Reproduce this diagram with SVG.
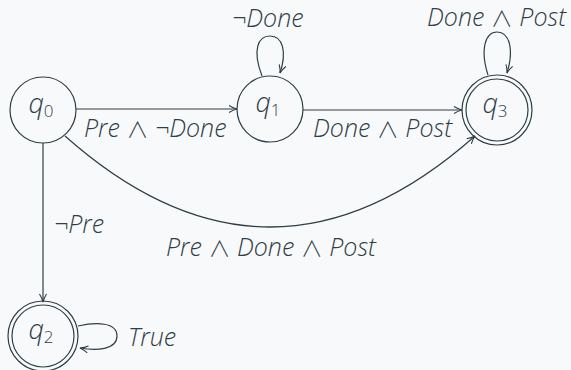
<svg xmlns="http://www.w3.org/2000/svg" width="571" height="370" viewBox="0 0 571 370">
  <style>
    .bg { fill: #f8f9fa; }
    .state { fill: none; stroke: #2f3e46; stroke-width: 1.2; }
    .edge { fill: none; stroke: #2f3e46; stroke-width: 1.2; }
    .lbl { font-family: "Open Sans", "Noto Sans", sans-serif; font-style: italic; font-weight: 300; font-size: 25px; fill: #2f3e46; }
    .op { font-family: "Noto Sans CJK JP", "DejaVu Sans", sans-serif; font-style: normal; font-weight: 300; font-size: 22px; }
    .name { font-family: "Open Sans", "Noto Sans", sans-serif; font-style: italic; font-weight: 300; font-size: 27px; fill: #2f3e46; text-anchor: middle; }
    .sub { font-style: normal; font-size: 17px; }
  </style>
  <defs>
    <marker id="arrow" viewBox="0 0 10 10" refX="9" refY="5" markerWidth="10" markerHeight="10" markerUnits="userSpaceOnUse" orient="auto">
      <path d="M1,1.5 Q5,4 9,5 Q5,6 1,8.5" fill="none" stroke="#2f3e46" stroke-width="1.1"/>
    </marker>
  </defs>
  <rect class="bg" width="571" height="370"/>

  <g id="edges">
    <!-- q0 -> q1 -->
    <path class="edge" d="M76,109 L237,109" marker-end="url(#arrow)"/>
    <text class="lbl" x="84" y="137">Pre <tspan class="op">∧</tspan> ¬Done</text>
    <!-- q1 -> q3 -->
    <path class="edge" d="M303,110 L462,110" marker-end="url(#arrow)"/>
    <text class="lbl" x="313" y="137">Done <tspan class="op">∧</tspan> Post</text>
    <!-- q1 self loop -->
    <path class="edge" d="M262,76 C252,50 258,36 270,36 C283,36 287,52 280,73" marker-end="url(#arrow)"/>
    <text class="lbl" x="232" y="27">¬Done</text>
    <!-- q3 self loop -->
    <path class="edge" d="M488,75 C480,50 485,32 497,32 C510,32 514,50 507,73" marker-end="url(#arrow)"/>
    <text class="lbl" x="427" y="26">Done <tspan class="op">∧</tspan> Post</text>
    <!-- q0 -> q3 -->
    <path class="edge" d="M65,136 Q270,318 475,136" marker-end="url(#arrow)"/>
    <text class="lbl" x="166" y="256">Pre <tspan class="op">∧</tspan> Done <tspan class="op">∧</tspan> Post</text>
    <!-- q0 -> q2 -->
    <path class="edge" d="M43,143 L43,302" marker-end="url(#arrow)"/>
    <text class="lbl" x="54" y="233">¬Pre</text>
    <!-- q2 self loop -->
    <path class="edge" d="M78,326 C96,322 117,322 117,336 C117,350 96,351 80,348" marker-end="url(#arrow)"/>
    <text class="lbl" x="128" y="346">True</text>
  </g>

  <g id="q0">
    <circle class="state" cx="43" cy="110" r="33"/>
    <text class="name" x="41" y="113">q<tspan class="sub" dy="4">0</tspan></text>
  </g>
  <g id="q1">
    <circle class="state" cx="270" cy="109" r="33"/>
    <text class="name" x="268" y="112">q<tspan class="sub" dy="4">1</tspan></text>
  </g>
  <g id="q3">
    <circle class="state" cx="497" cy="110" r="35"/>
    <circle class="state" cx="497" cy="110" r="31"/>
    <text class="name" x="495" y="113">q<tspan class="sub" dy="4">3</tspan></text>
  </g>
  <g id="q2">
    <circle class="state" cx="43" cy="336" r="35"/>
    <circle class="state" cx="43" cy="336" r="31"/>
    <text class="name" x="41" y="339">q<tspan class="sub" dy="4">2</tspan></text>
  </g>
</svg>
